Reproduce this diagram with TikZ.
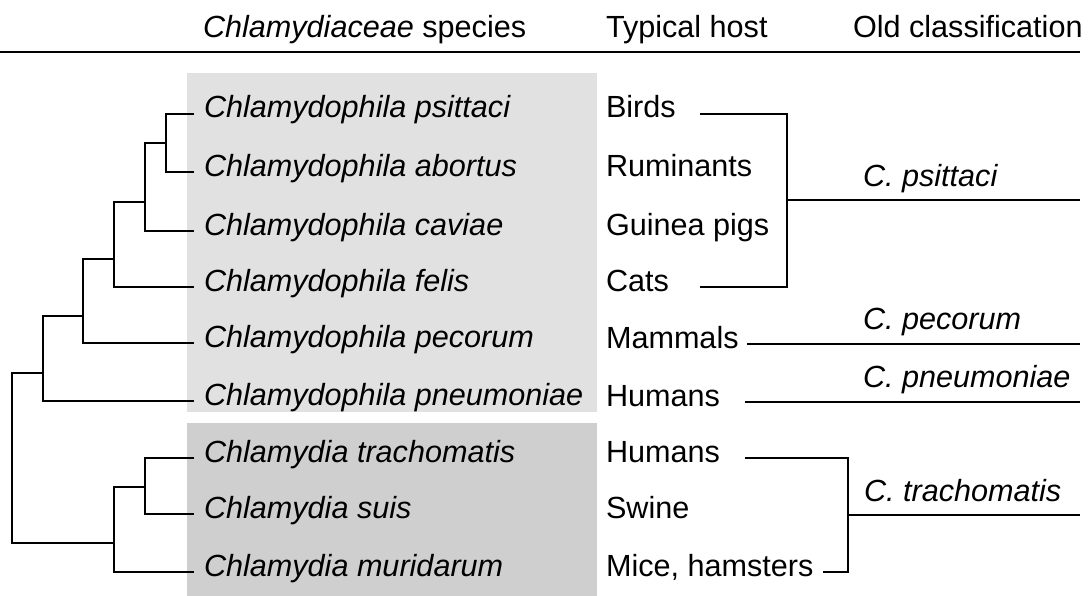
\documentclass[tikz,border=0pt]{standalone}
\usepackage{fontspec}
\setmainfont{Liberation Sans}
\usetikzlibrary{positioning}
\definecolor{boxlight}{HTML}{E1E1E1}
\definecolor{boxdark}{HTML}{CFCFCF}
\begin{document}
\begin{tikzpicture}[x=1pt,y=-1pt,line width=2pt,
  lbl/.style={font=\fontsize{30.6}{32}\selectfont,anchor=base west,inner sep=0pt},
  spc/.style={lbl,font=\fontsize{30.6}{32}\selectfont\itshape}]
\useasboundingbox (0,0) rectangle (1091,596);
\fill[boxlight] (187,73) rectangle (597,412);
\fill[boxdark] (187,423) rectangle (597,596);
% header
\node[lbl] (hspecies) at (202,38) {\textit{Chlamydiaceae} species};
\node[lbl] (hhost) at (605,38) {Typical host};
\node[lbl] (hold) at (852,38) {Old classification};
\coordinate (ruleA) at (0,52);
\coordinate (ruleB) at (1080,52);
\draw[line width=2.4pt] (ruleA) -- (ruleB);
% species
\node[spc] (psittaci) at (203,118) {Chlamydophila psittaci};
\node[spc] (abortus) at (203,176) {Chlamydophila abortus};
\node[spc] (caviae) at (203,235) {Chlamydophila caviae};
\node[spc] (felis) at (203,291) {Chlamydophila felis};
\node[spc] (pecorum) at (203,347) {Chlamydophila pecorum};
\node[spc] (pneumoniae) at (203,405) {Chlamydophila pneumoniae};
\node[spc] (trachomatis) at (203,462) {Chlamydia trachomatis};
\node[spc] (suis) at (203,518) {Chlamydia suis};
\node[spc] (muridarum) at (203,576) {Chlamydia muridarum};
% tree
\coordinate (l1) at (194,114);
\coordinate (l2) at (194,172);
\coordinate (l3) at (194,231);
\coordinate (l4) at (194,287);
\coordinate (l5) at (194,343);
\coordinate (l6) at (194,401);
\coordinate (l7) at (194,458);
\coordinate (l8) at (194,514);
\coordinate (l9) at (194,572);
\coordinate (n1) at (166,143);
\coordinate (n2) at (145,202);
\coordinate (n3) at (114,259);
\coordinate (n4) at (83,316);
\coordinate (n5) at (43,373);
\coordinate (m1) at (145,487);
\coordinate (m2) at (114,543);
\coordinate (root) at (12,458);
\draw (l1) -| (n1) |- (l2);
\draw (n1) -| (n2) |- (l3);
\draw (n2) -| (n3) |- (l4);
\draw (n3) -| (n4) |- (l5);
\draw (n4) -| (n5) |- (l6);
\draw (l7) -| (m1) |- (l8);
\draw (m1) -| (m2) |- (l9);
\draw (n5) -| (root) |- (m2);
% hosts
\node[lbl] (birds) at (605,118) {Birds};
\node[lbl] (ruminants) at (605,176) {Ruminants};
\node[lbl] (guinea) at (605,235) {Guinea pigs};
\node[lbl] (cats) at (605,291) {Cats};
\node[lbl] (mammals) at (605,348) {Mammals};
\node[lbl] (humansA) at (605,406) {Humans};
\node[lbl] (humansB) at (605,462) {Humans};
\node[lbl] (swine) at (605,518) {Swine};
\node[lbl] (mice) at (605,576) {Mice, hamsters};
% old classification
\coordinate (psA) at (700,114);
\coordinate (psB) at (787,200);
\coordinate (psC) at (700,287);
\coordinate (psD) at (1080,200);
\draw (psA) -| (psB) |- (psC);
\draw (psB) -- (psD);
\node[spc] (cpsittaci) at (862,186) {C. psittaci};
\coordinate (peA) at (747,344);
\coordinate (peB) at (1080,344);
\draw (peA) -- (peB);
\node[spc] (cpecorum) at (862,329) {C. pecorum};
\coordinate (pnA) at (745,402);
\coordinate (pnB) at (1080,402);
\draw (pnA) -- (pnB);
\node[spc] (cpneumoniae) at (862,387) {C. pneumoniae};
\coordinate (trA) at (745,458);
\coordinate (trB) at (848,515);
\coordinate (trC) at (823,572);
\coordinate (trD) at (1080,515);
\draw (trA) -| (trB) |- (trC);
\draw (trB) -- (trD);
\node[spc] (ctrachomatis) at (863,501) {C. trachomatis};
\end{tikzpicture}
\end{document}
